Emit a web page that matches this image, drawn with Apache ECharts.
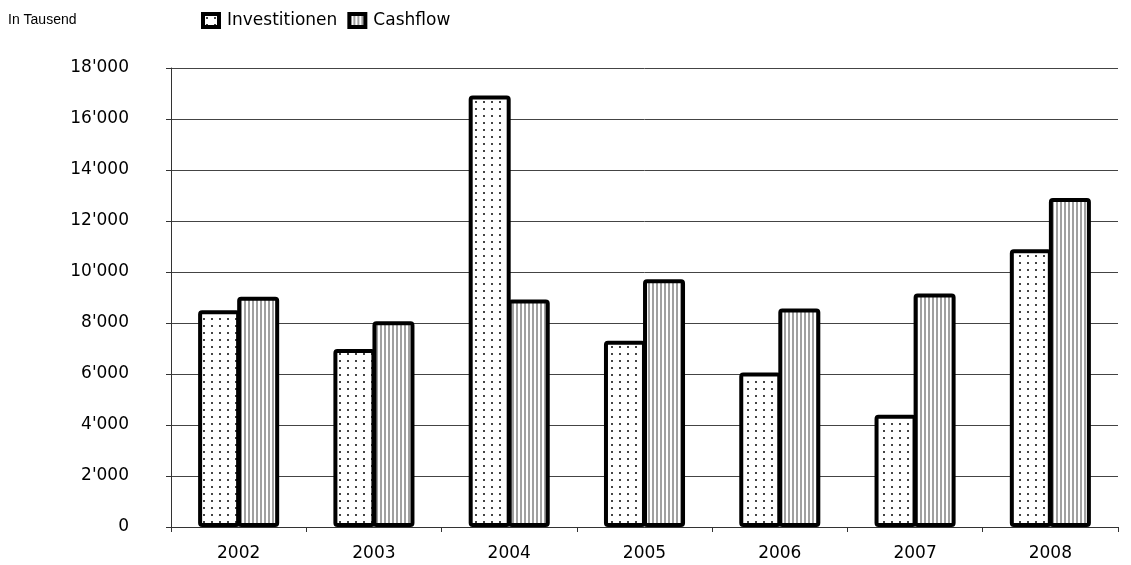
<!DOCTYPE html>
<html>
<head>
<meta charset="utf-8">
<script src="https://cdn.jsdelivr.net/npm/echarts@6/dist/echarts.min.js"></script>
<style>
html,body{margin:0;padding:0;background:#fff;}
#chart{width:1131px;height:565px;}
</style>
</head>
<body>
<div id="chart"></div>
<script>
const categories = ['2002','2003','2004','2005','2006','2007','2008'];
const investitionen = [8500, 6980, 16920, 7300, 6060, 4400, 10890];
const cashflow = [9030, 8070, 8920, 9720, 8570, 9160, 12900];
const seriesNames = ['Investitionen', 'Cashflow'];
const unitLabel = 'In Tausend';

function dotPattern() {
  const c = document.createElement('canvas');
  c.width = 8; c.height = 7;
  const ctx = c.getContext('2d');
  ctx.fillStyle = '#fff';
  ctx.fillRect(0, 0, 8, 7);
  ctx.fillStyle = '#444';
  ctx.fillRect(3, 3, 2, 2);
  return c;
}
function stripePattern() {
  const c = document.createElement('canvas');
  c.width = 4; c.height = 4;
  const ctx = c.getContext('2d');
  ctx.fillStyle = '#fff';
  ctx.fillRect(0, 0, 4, 4);
  ctx.fillStyle = '#a0a0a0';
  ctx.fillRect(0, 0, 2, 4);
  return c;
}
function fmt(v) {
  return String(v).replace(/\B(?=(\d{3})+(?!\d))/g, "'");
}

const chart = echarts.init(document.getElementById('chart'), null, {renderer: 'canvas'});
const font = 'DejaVu Sans';
chart.setOption({
  animation: false,
  backgroundColor: '#fff',
  graphic: [{
    type: 'text', left: 8, top: 13,
    style: {text: unitLabel, font: '14px "Liberation Sans"', fill: '#000'}
  }],
  legend: {
    left: 196, top: 7,
    itemWidth: 16, itemHeight: 13, itemGap: 10,
    icon: 'rect',
    itemStyle: {borderWidth: 4, borderColor: '#000'},
    textStyle: {fontFamily: font, fontSize: 17, color: '#000', padding: [0,0,0,3]},
    data: seriesNames
  },
  grid: {left: 171, right: 13, top: 68, bottom: 38, containLabel: false},
  xAxis: {
    type: 'category',
    data: categories,
    axisLine: {lineStyle: {color: '#333', width: 1}},
    axisTick: {show: true, length: 5, lineStyle: {color: '#333'}},
    axisLabel: {margin: 18, fontFamily: font, fontSize: 17, color: '#000'}
  },
  yAxis: {
    type: 'value',
    min: 0, max: 18000, interval: 2000,
    axisLine: {show: true, lineStyle: {color: '#333', width: 1}},
    axisTick: {show: true, length: 5, lineStyle: {color: '#333'}},
    splitLine: {show: true, lineStyle: {color: '#444', width: 1}},
    axisLabel: {margin: 42, fontFamily: font, fontSize: 17, color: '#000', formatter: fmt}
  },
  series: [
    {
      name: seriesNames[0], type: 'bar', data: investitionen,
      barWidth: 42, barGap: '-7%',
      itemStyle: {color: {image: dotPattern(), repeat: 'repeat'}, borderColor: '#000', borderWidth: 4, borderRadius: 2}
    },
    {
      name: seriesNames[1], type: 'bar', data: cashflow,
      barWidth: 42, barGap: '-7%',
      itemStyle: {color: {image: stripePattern(), repeat: 'repeat'}, borderColor: '#000', borderWidth: 4, borderRadius: 2}
    }
  ]
});
</script>
</body>
</html>
